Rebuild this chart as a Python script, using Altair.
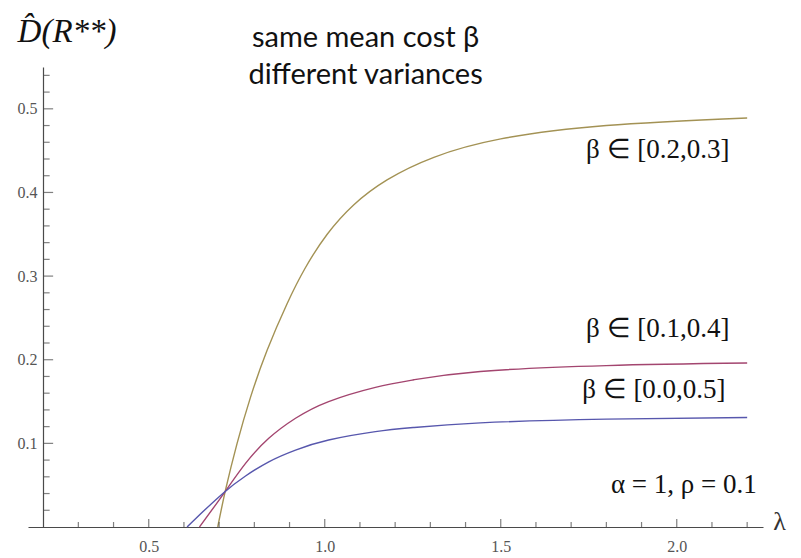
import altair as alt
import pandas as pd

# ---- data ----
series_names = ["β ∈ [0.2,0.3]", "β ∈ [0.1,0.4]", "β ∈ [0.0,0.5]"]
series_colors = ["#a39254", "#a3456f", "#5757ad"]

lam_gold = [0.696, 0.718, 0.751, 0.789, 0.836, 0.893, 0.945, 1.007, 1.082, 1.177, 1.310, 1.500, 1.800, 2.200]
d_gold = [0.000, 0.044, 0.100, 0.155, 0.211, 0.267, 0.310, 0.350, 0.385, 0.415, 0.442, 0.464, 0.480, 0.489]

lam_red = [0.644, 0.713, 0.775, 0.841, 0.917, 1.011, 1.144, 1.253, 1.442, 1.800, 2.200]
d_red = [0.000, 0.040, 0.076, 0.106, 0.130, 0.150, 0.167, 0.176, 0.186, 0.193, 0.196]

lam_blue = [0.609, 0.633, 0.713, 0.775, 0.841, 0.917, 1.011, 1.144, 1.253, 1.442, 1.800, 2.200]
d_blue = [0.000, 0.010, 0.041, 0.061, 0.078, 0.092, 0.104, 0.114, 0.119, 0.1245, 0.129, 0.131]

x_major = [0.5, 1.0, 1.5, 2.0]
x_minor = [0.3, 0.4, 0.6, 0.7, 0.8, 0.9, 1.1, 1.2, 1.3, 1.4, 1.6, 1.7, 1.8, 1.9, 2.1, 2.2]
y_major = [0.1, 0.2, 0.3, 0.4, 0.5]
y_minor = [0.02, 0.04, 0.06, 0.08, 0.12, 0.14, 0.16, 0.18, 0.22, 0.24, 0.26, 0.28,
           0.32, 0.34, 0.36, 0.38, 0.42, 0.44, 0.46, 0.48, 0.52, 0.54]
y_axis_at = 0.2

curve_labels = ["β ∈ [0.2,0.3]", "β ∈ [0.1,0.4]", "β ∈ [0.0,0.5]", "α = 1, ρ = 0.1"]
curve_label_lam = [1.946, 1.946, 1.935, 2.020]
curve_label_d = [0.4417, 0.2266, 0.1537, 0.041]

title_lines = ["same mean cost β", "different variances"]
title_lam = [1.116, 1.116]
title_d = [0.574, 0.530]

# ---- tables ----
rows = []
for name, lams, ds in zip(series_names, [lam_gold, lam_red, lam_blue], [d_gold, d_red, d_blue]):
    for l, d in zip(lams, ds):
        rows.append({"series": name, "lam": l, "D": d})
df = pd.DataFrame(rows)

xs = alt.Scale(domain=[0.157, 2.245], nice=False, zero=False)
ys = alt.Scale(domain=[0, 0.55], nice=False, zero=False)
AX = "#4a4a4a"

x_axis = alt.Axis(values=x_major, format=".1f", ticks=False, grid=False, title=None,
                  domainColor=AX, domainWidth=1.2, labelFont="Liberation Serif", labelFontSize=16,
                  labelColor="#555555", labelPadding=11)
y_axis = alt.Axis(values=y_major, format=".1f", ticks=False, grid=False, title=None, offset=-15,
                  domainColor=AX, domainWidth=1.2, labelFont="Liberation Serif", labelFontSize=16,
                  labelColor="#555555", labelPadding=6)


def X(field):
    return alt.X(field, scale=xs, axis=x_axis)


def Y(field):
    return alt.Y(field, scale=ys, axis=y_axis)


lines = alt.Chart(df).mark_line(strokeWidth=1.4, interpolate="natural").encode(
    x=X("lam:Q"), y=Y("D:Q"),
    color=alt.Color("series:N", scale=alt.Scale(domain=series_names, range=series_colors), legend=None),
)

xt_major = alt.Chart(pd.DataFrame({"lam": x_major})).mark_tick(
    orient="vertical", size=8, thickness=1.2, color=AX, yOffset=-4).encode(
    x=X("lam:Q"), y=alt.YDatum(0, scale=ys, axis=y_axis))
xt_minor = alt.Chart(pd.DataFrame({"lam": x_minor})).mark_tick(
    orient="vertical", size=5, thickness=1.2, color=AX, yOffset=-2.5).encode(
    x=X("lam:Q"), y=alt.YDatum(0, scale=ys, axis=y_axis))
yt_major = alt.Chart(pd.DataFrame({"D": y_major})).mark_tick(
    orient="horizontal", size=10, thickness=1.2, color=AX, xOffset=5).encode(
    y=Y("D:Q"), x=alt.XDatum(y_axis_at, scale=xs, axis=x_axis))
yt_minor = alt.Chart(pd.DataFrame({"D": y_minor})).mark_tick(
    orient="horizontal", size=6.5, thickness=1.2, color=AX, xOffset=3.25).encode(
    y=Y("D:Q"), x=alt.XDatum(y_axis_at, scale=xs, axis=x_axis))

labels = alt.Chart(pd.DataFrame({"t": curve_labels, "lam": curve_label_lam, "D": curve_label_d})).mark_text(
    font="Liberation Serif", fontSize=27, color="#111111", align="center", baseline="alphabetic").encode(
    x=X("lam:Q"), y=Y("D:Q"), text="t:N")

title = alt.Chart(pd.DataFrame({"t": title_lines, "lam": title_lam, "D": title_d})).mark_text(
    font="Lato", fontSize=29, color="#111111", align="center", baseline="alphabetic").encode(
    x=X("lam:Q"), y=Y("D:Q"), text="t:N")

ylab = alt.Chart(pd.DataFrame({"t": ["D̂(R**)"], "lam": [0.268], "D": [0.580]})).mark_text(
    font="Liberation Serif", fontStyle="italic", fontSize=33, color="#111111",
    align="center", baseline="alphabetic").encode(
    x=X("lam:Q"), y=Y("D:Q"), text="t:N")

xlab = alt.Chart(pd.DataFrame({"t": ["λ"], "lam": [2.292], "D": [-0.004]})).mark_text(
    font="Liberation Serif", fontSize=26, color="#333333",
    align="center", baseline="alphabetic").encode(
    x=X("lam:Q"), y=Y("D:Q"), text="t:N")

chart = alt.layer(lines, xt_major, xt_minor, yt_major, yt_minor, labels, title, ylab, xlab).properties(
    width=735, height=460,
    background="white",
    autosize=alt.AutoSizeParams(type="none"),
    padding={"left": 20, "top": 59, "right": 30, "bottom": 31},
).configure_view(stroke=None)

chart.save("out.html", embed_options={"renderer": "svg", "actions": False})
